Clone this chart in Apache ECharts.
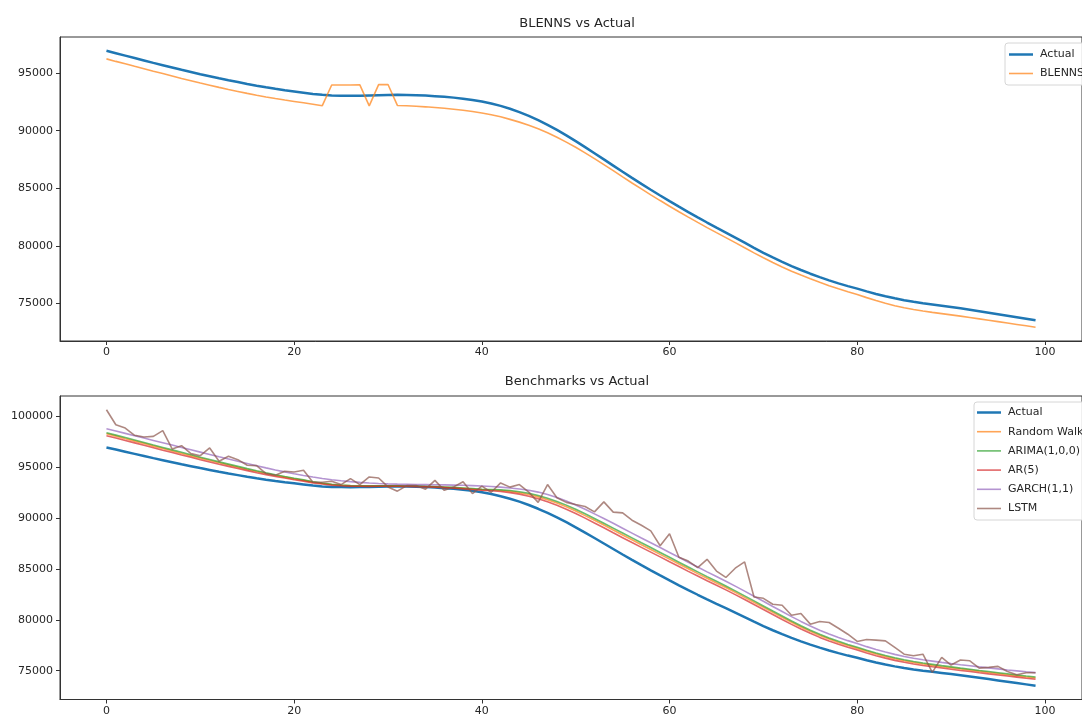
<!DOCTYPE html>
<html>
<head>
<meta charset="utf-8">
<script src="https://cdn.jsdelivr.net/npm/echarts@6/dist/echarts.min.js"></script>
<style>html,body{margin:0;padding:0;background:#fff}#c{width:1082px;height:717px}</style>
</head>
<body>
<div id="c"></div>
<script>
// time index 0..99
const steps = Array.from({length: 100}, (_, i) => i);

const actual = [
96950,96740,96530,96320,96110,95900,95700,95500,95300,95110,
94920,94740,94560,94390,94230,94070,93920,93780,93650,93530,
93420,93310,93200,93120,93070,93050,93040,93050,93070,93090,
93110,93120,93110,93090,93060,93010,92950,92880,92790,92680,
92540,92370,92160,91910,91620,91290,90920,90510,90070,89600,
89100,88580,88050,87510,86970,86430,85900,85380,84870,84370,
83880,83400,82930,82470,82020,81580,81150,80710,80270,79820,
79390,78980,78600,78230,77890,77570,77270,76990,76730,76490,
76270,76030,75810,75610,75430,75270,75130,75010,74900,74790,
74680,74560,74440,74310,74180,74050,73920,73790,73660,73530];

const blenns = [
96250,96030,95820,95600,95390,95170,94970,94760,94550,94350,
94150,93960,93770,93590,93420,93250,93090,92940,92800,92670,
92550,92430,92310,92180,93980,93980,93980,93990,92160,94010,
94020,92200,92170,92130,92080,92020,91950,91870,91780,91670,
91540,91390,91210,90990,90750,90480,90170,89820,89430,89010,
88560,88080,87580,87060,86530,85990,85460,84940,84430,83930,
83440,82960,82490,82030,81580,81140,80710,80270,79830,79380,
78950,78540,78160,77790,77450,77130,76820,76530,76260,76000,
75760,75490,75240,75000,74790,74610,74460,74330,74210,74100,
73990,73880,73760,73640,73520,73400,73280,73160,73040,72920];

const randomWalk = [
98300,98060,97810,97570,97330,97080,96840,96600,96360,96120,
95890,95660,95440,95220,95000,94790,94590,94390,94200,94030,
93860,93710,93540,93410,93300,93240,93190,93160,93150,93150,
93150,93150,93140,93130,93110,93080,93030,92990,92930,92870,
92800,92770,92720,92630,92500,92320,92090,91810,91480,91110,
90700,90250,89790,89320,88830,88350,87870,87390,86920,86440,
85970,85490,85020,84550,84090,83630,83180,82700,82210,81720,
81230,80740,80250,79770,79300,78870,78470,78110,77780,77480,
77200,76910,76640,76400,76180,75980,75810,75660,75530,75400,
75290,75170,75060,74940,74830,74720,74610,74500,74390,74290];

const arima = [
98400,98160,97920,97680,97440,97190,96950,96710,96470,96230,
95990,95760,95530,95310,95090,94870,94660,94460,94270,94090,
93920,93760,93580,93440,93330,93260,93210,93180,93170,93170,
93170,93170,93160,93150,93130,93100,93060,93020,92970,92910,
92840,92820,92780,92710,92600,92440,92230,91960,91640,91280,
90870,90430,89970,89500,89020,88540,88060,87580,87110,86630,
86150,85670,85190,84720,84250,83790,83330,82850,82360,81870,
81370,80870,80380,79890,79430,78990,78590,78220,77890,77590,
77310,77020,76750,76500,76280,76080,75910,75760,75630,75500,
75380,75260,75150,75030,74920,74810,74700,74590,74480,74380];

const ar5 = [
98100,97870,97630,97400,97160,96920,96680,96450,96210,95980,
95740,95520,95300,95090,94880,94670,94470,94280,94100,93940,
93780,93640,93470,93350,93250,93190,93150,93130,93120,93130,
93130,93130,93120,93100,93080,93050,93000,92950,92890,92820,
92740,92690,92620,92510,92360,92160,91910,91610,91260,90880,
90450,90000,89520,89050,88560,88080,87600,87130,86660,86190,
85710,85240,84770,84310,83850,83400,82950,82480,82000,81510,
81020,80530,80040,79560,79110,78680,78280,77920,77600,77300,
77030,76750,76480,76240,76020,75830,75660,75520,75390,75270,
75150,75030,74920,74800,74690,74590,74480,74370,74260,74160];

const garch = [
98790,98560,98330,98100,97870,97640,97410,97180,96950,96720,
96490,96260,96030,95810,95590,95370,95150,94940,94740,94550,
94370,94200,94040,93900,93780,93680,93590,93520,93460,93410,
93370,93340,93320,93300,93290,93280,93270,93250,93230,93200,
93160,93110,93050,92970,92870,92740,92560,92320,92030,91690,
91300,90870,90420,89960,89490,89010,88530,88050,87580,87110,
86630,86150,85670,85190,84720,84260,83800,83320,82830,82330,
81830,81320,80820,80320,79850,79400,78990,78610,78270,77960,
77670,77370,77090,76840,76610,76400,76230,76080,75950,75820,
75700,75590,75490,75380,75280,75180,75080,74990,74900,74820];

const lstm = [
100650,99180,98860,98140,97970,98040,98600,96800,97120,96340,
96140,96900,95590,96080,95750,95200,95160,94380,94220,94610,
94540,94710,93530,93530,93630,93300,93890,93300,94050,93950,
93070,92650,93200,93200,92850,93710,92730,93070,93580,92420,
93140,92550,93460,93050,93300,92560,91550,93300,92000,91550,
91340,91150,90620,91600,90590,90520,89800,89300,88750,87290,
88460,86160,85780,85130,85950,84800,84170,85080,85700,82250,
82120,81540,81440,80460,80620,79580,79840,79740,79180,78590,
77880,78070,78010,77940,77290,76630,76470,76630,74840,76310,
75560,76050,75980,75260,75330,75430,74930,74610,74800,74800];

const xTicks = [0, 20, 40, 60, 80, 100];
const yTicksTop = [75000, 80000, 85000, 90000, 95000];
const yTicksBottom = [75000, 80000, 85000, 90000, 95000, 100000];

const titles = ['BLENNS vs Actual', 'Benchmarks vs Actual'];
const topNames = ['Actual', 'BLENNS'];
const bottomNames = ['Actual', 'Random Walk', 'ARIMA(1,0,0)', 'AR(5)', 'GARCH(1,1)', 'LSTM'];

const COLORS = {blue:'#1f77b4', orange:'#ff7f0e', green:'#2ca02c', red:'#d62728', purple:'#9467bd', brown:'#8c564b'};
const FONT = 'DejaVu Sans';
const TXT = '#262626';
const SPINE = '#333333';

// matplotlib-like 5% margins
function ext(arrs) {
  let lo = Infinity, hi = -Infinity;
  arrs.forEach(a => a.forEach(v => { lo = Math.min(lo, v); hi = Math.max(hi, v); }));
  const m = (hi - lo) * 0.05;
  return [lo - m, hi + m];
}
const xExt = [steps[0] - (steps[99] - steps[0]) * 0.05, steps[99] + (steps[99] - steps[0]) * 0.05];
const topExt = ext([actual, blenns]);
const botExt = ext([actual, randomWalk, arima, ar5, garch, lstm]);

const pairs = a => a.map((v, i) => [steps[i], v]);

const GL = 60, GW = 1034.5;

function xAxis(gi) {
  return {type:'value', gridIndex:gi, min:xExt[0], max:xExt[1],
    axisLine:{show:true, onZero:false, lineStyle:{color:SPINE, width:1}}, splitLine:{show:false},
    axisTick:{show:true, length:4, customValues:xTicks, lineStyle:{color:SPINE, width:1}},
    axisLabel:{customValues:xTicks, color:TXT, fontFamily:FONT, fontSize:11, margin:6,
      formatter: v => String(v)}};
}
function yAxis(gi, e, ticks) {
  return {type:'value', gridIndex:gi, min:e[0], max:e[1], scale:true,
    axisLine:{show:true, onZero:false, lineStyle:{color:SPINE, width:1}}, splitLine:{show:false},
    axisTick:{show:true, length:4, customValues:ticks, lineStyle:{color:SPINE, width:1}},
    axisLabel:{customValues:ticks, color:TXT, fontFamily:FONT, fontSize:11, margin:7,
      formatter: v => String(v)}};
}
function line(name, data, color, width, opacity, xi, z) {
  return {name:name, type:'line', xAxisIndex:xi, yAxisIndex:xi, data:pairs(data),
    symbol:'none', showSymbol:false, z:z,
    lineStyle:{color:color, width:width, opacity:opacity},
    itemStyle:{color:color, opacity:opacity}};
}
const THICK = 'path://M0,0H24V2.5H0Z';
const THIN = 'path://M0,0H24V1.6H0Z';
const legendText = {fontFamily:FONT, fontSize:11, color:TXT, padding:[0,0,0,2]};
const legItems = names => names.map(n => ({name:n, icon: n === 'Actual' ? THICK : THIN}));

const option = {
  animation:false,
  backgroundColor:'#ffffff',
  title:[
    {text:titles[0], left:577, top:17, textAlign:'center', padding:0,
     textStyle:{fontFamily:FONT, fontSize:13, fontWeight:'normal', color:TXT}},
    {text:titles[1], left:577, top:375, textAlign:'center', padding:0,
     textStyle:{fontFamily:FONT, fontSize:13, fontWeight:'normal', color:TXT}}
  ],
  grid:[
    {left:GL, top:37, width:GW, height:304, show:true, borderColor:SPINE, borderWidth:1, backgroundColor:'transparent'},
    {left:GL, top:396, width:GW, height:303.5, show:true, borderColor:SPINE, borderWidth:1, backgroundColor:'transparent'}
  ],
  xAxis:[xAxis(0), xAxis(1)],
  yAxis:[yAxis(0, topExt, yTicksTop), yAxis(1, botExt, yTicksBottom)],
  legend:[
    {orient:'vertical', left:1005, top:43, padding:[6,14,6,4], itemWidth:24, itemHeight:12, itemGap:8,
     symbolKeepAspect:true,
     backgroundColor:'rgba(255,255,255,0.85)', borderColor:'#d6d6d6', borderWidth:1, borderRadius:3,
     textStyle:legendText, data:legItems(topNames), selectedMode:false},
    {orient:'vertical', left:974, top:402, padding:[5,14,6,3], itemWidth:24, itemHeight:12, itemGap:8.2,
     symbolKeepAspect:true,
     backgroundColor:'rgba(255,255,255,0.85)', borderColor:'#d6d6d6', borderWidth:1, borderRadius:3,
     textStyle:legendText, data:legItems(bottomNames), selectedMode:false}
  ],
  series:[
    line(topNames[0], actual, COLORS.blue, 2.5, 1, 0, 2),
    line(topNames[1], blenns, COLORS.orange, 1.6, 0.7, 0, 3),
    line(bottomNames[0], actual, COLORS.blue, 2.5, 1, 1, 2),
    line(bottomNames[1], randomWalk, COLORS.orange, 1.6, 0.7, 1, 3),
    line(bottomNames[2], arima, COLORS.green, 1.6, 0.7, 1, 3),
    line(bottomNames[3], ar5, COLORS.red, 1.6, 0.7, 1, 3),
    line(bottomNames[4], garch, COLORS.purple, 1.6, 0.7, 1, 3),
    line(bottomNames[5], lstm, COLORS.brown, 1.6, 0.7, 1, 3)
  ]
};
const chart = echarts.init(document.getElementById('c'), null, {renderer:'canvas'});
chart.setOption(option);
</script>
</body>
</html>
